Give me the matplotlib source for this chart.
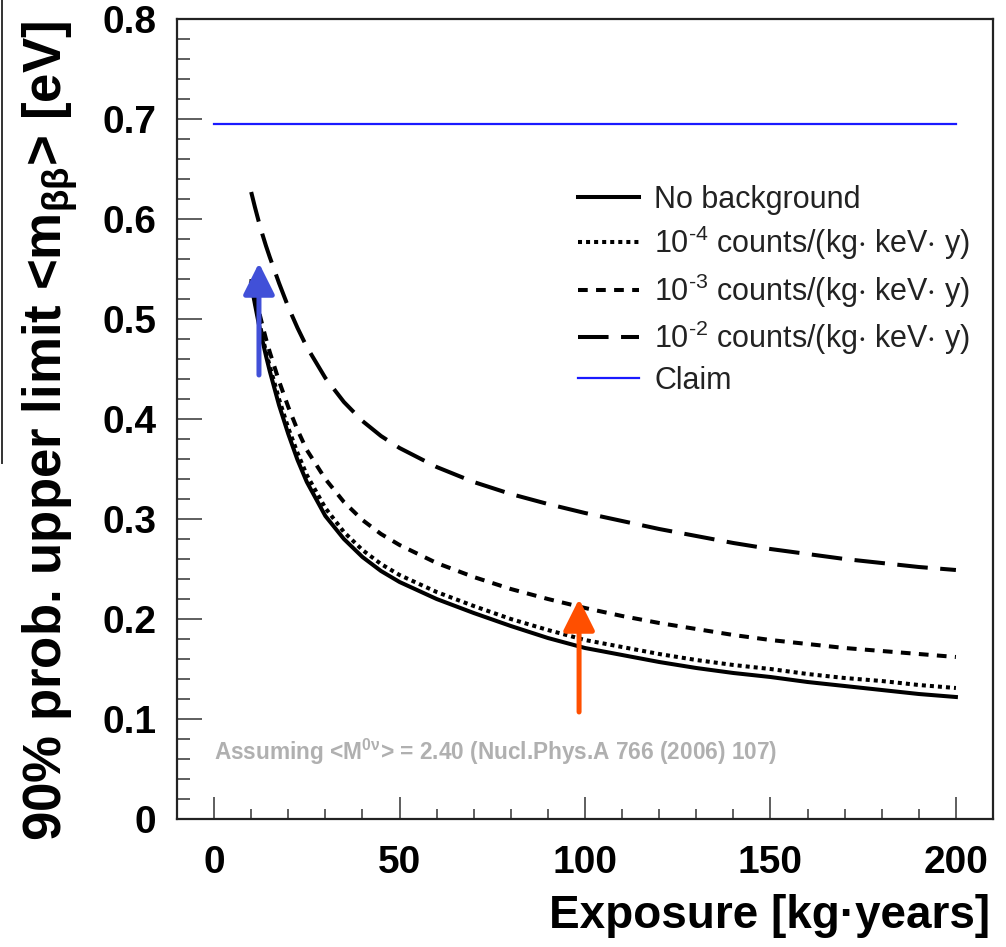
import numpy as np
import matplotlib
matplotlib.use("Agg")
import matplotlib.pyplot as plt
from matplotlib.lines import Line2D
from matplotlib.ticker import MultipleLocator

# --- Plot styling ---
plt.rcParams.update({
    "font.family": "Liberation Sans",
    "mathtext.fontset": "custom",
    "mathtext.rm": "Liberation Sans",
    "mathtext.it": "Liberation Sans:italic",
    "mathtext.bf": "Liberation Sans:bold",
    "mathtext.default": "regular",
    "lines.scale_dashes": False,
})

# --- Sensitivity curves: 90% upper limit on <m_bb> vs exposure [kg*y] ---
exposure = [10, 11, 12, 13, 14, 15, 17.5, 20, 22.5, 25, 30, 35, 40, 45, 50,
            60, 70, 80, 90, 100, 110, 120, 130, 140, 150, 160, 170, 180, 190, 200]
limit_nobg = [0.535, 0.515, 0.496, 0.479, 0.463, 0.448, 0.414, 0.385, 0.359, 0.337,
              0.303, 0.280, 0.262, 0.248, 0.237, 0.220, 0.206, 0.193, 0.181, 0.171,
              0.164, 0.157, 0.151, 0.146, 0.142, 0.137, 0.133, 0.129, 0.125, 0.122]
limit_bg4 = [0.538, 0.519, 0.500, 0.483, 0.467, 0.453, 0.420, 0.391, 0.366, 0.344,
             0.311, 0.287, 0.269, 0.255, 0.244, 0.227, 0.213, 0.200, 0.189, 0.179,
             0.172, 0.165, 0.159, 0.154, 0.150, 0.145, 0.141, 0.138, 0.134, 0.131]
limit_bg3 = [0.540, 0.524, 0.509, 0.494, 0.480, 0.467, 0.438, 0.412, 0.389, 0.369,
             0.340, 0.317, 0.299, 0.285, 0.274, 0.256, 0.242, 0.230, 0.220, 0.211,
             0.203, 0.196, 0.190, 0.184, 0.179, 0.175, 0.171, 0.168, 0.165, 0.162]
limit_bg2 = [0.627, 0.612, 0.598, 0.585, 0.573, 0.562, 0.536, 0.512, 0.491, 0.472,
             0.441, 0.417, 0.398, 0.383, 0.371, 0.352, 0.337, 0.325, 0.315, 0.306,
             0.298, 0.290, 0.283, 0.276, 0.270, 0.265, 0.260, 0.256, 0.252, 0.249]

claim_x = [0, 200]
claim_y = [0.695, 0.695]

# arrows: (x, y_tail, y_tip)
arrow_blue = (12.1, 0.444, 0.556)
arrow_orange = (98.4, 0.107, 0.220)

labels = [
    "No background",
    r"10$^{\text{-}4}$ counts/(kg$\cdot$ keV$\cdot$ y)",
    r"10$^{\text{-}3}$ counts/(kg$\cdot$ keV$\cdot$ y)",
    r"10$^{\text{-}2}$ counts/(kg$\cdot$ keV$\cdot$ y)",
    "Claim",
]

fig = plt.figure(figsize=(10.06, 9.47), dpi=100)
ax = fig.add_axes([177 / 1006, 128 / 947, 816 / 1006, 800 / 947])

lw = 2.9
ax.plot(exposure, limit_nobg, color="black", lw=lw, ls="-", label=labels[0])
ax.plot(exposure, limit_bg4, color="black", lw=lw, ls=(0, (2.9, 2.9)), label=labels[1])
ax.plot(exposure, limit_bg3, color="black", lw=lw, ls=(0, (7, 6)), label=labels[2])
ax.plot(exposure, limit_bg2, color="black", lw=lw, ls=(0, (22, 9)), label=labels[3])
ax.plot(claim_x, claim_y, color="#1a1aff", lw=1.6, label=labels[4])

for (x, y0, y1), col in [(arrow_blue, "#4150d8"), (arrow_orange, "#ff4f00")]:
    ax.annotate("", xy=(x, y1), xytext=(x, y0),
                arrowprops=dict(arrowstyle="-|>", color=col, lw=3.6,
                                mutation_scale=48, shrinkA=0, shrinkB=0))

ax.text(0, 0.059, r"Assuming <M$^{0\nu}$> = 2.40 (Nucl.Phys.A 766 (2006) 107)",
        color="#b0b0b0", fontsize=16.3, fontweight="bold", va="baseline", ha="left")

ax.set_xlim(-10, 210)
ax.set_ylim(0, 0.8)
ax.xaxis.set_minor_locator(MultipleLocator(10))
ax.yaxis.set_minor_locator(MultipleLocator(0.02))
ax.set_xticks([0, 50, 100, 150, 200])
ax.set_xticklabels(["0", "50", "100", "150", "200"])
ax.set_yticks([0, 0.1, 0.2, 0.3, 0.4, 0.5, 0.6, 0.7, 0.8])
ax.set_yticklabels(["0", "0.1", "0.2", "0.3", "0.4", "0.5", "0.6", "0.7", "0.8"])

ax.tick_params(which="both", direction="in", top=False, right=False,
               color="#333333", width=1.1)
ax.tick_params(axis="y", which="major", length=18, pad=15, labelsize=28)
ax.tick_params(axis="y", which="minor", length=9)
ax.tick_params(axis="x", which="major", length=16, pad=19, labelsize=28)
ax.tick_params(axis="x", which="minor", length=7.5)
for t in ax.get_xticklabels() + ax.get_yticklabels():
    t.set_fontweight("bold")
for s in ax.spines.values():
    s.set_linewidth(1.6)
    s.set_color("#222222")

leg = ax.legend(loc="upper left", bbox_to_anchor=(0.491, 0.793), frameon=False,
                fontsize=22, handlelength=2.0, handletextpad=0.5,
                labelspacing=0.30, borderpad=0, borderaxespad=0)
for t in leg.get_texts():
    t.set_color("#222222")

fig.text(0.05, 1 - 431 / 947, r"90% prob. upper limit <m$_{\beta\beta}$> [eV]",
         rotation=90, ha="center", va="center", fontsize=38, fontweight="bold")
fig.text(990 / 1006, (947 - 928) / 947, "Exposure [kg·years]",
         ha="right", va="baseline", fontsize=33, fontweight="bold")

# thin rule along the left edge
fig.add_artist(Line2D([0.0015, 0.0015], [1.0, 1 - 463 / 947],
                      transform=fig.transFigure, color="#333333", lw=1.4))

fig.savefig("out.png", dpi=100)
